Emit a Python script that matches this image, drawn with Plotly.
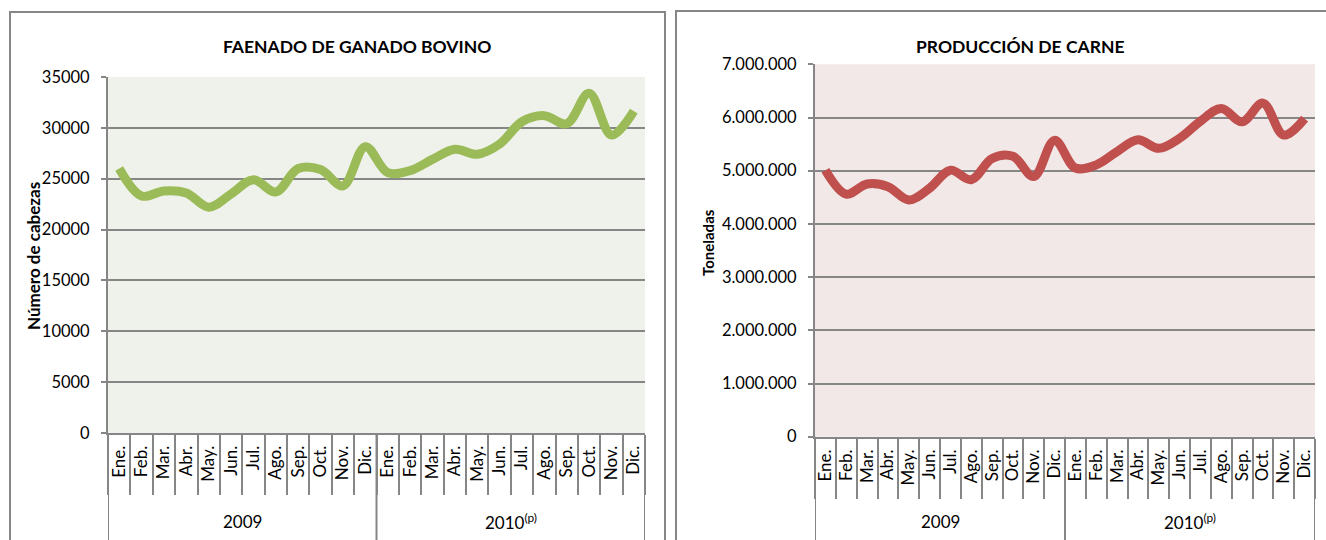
import plotly.graph_objects as go

months = ["Ene.", "Feb.", "Mar.", "Abr.", "May.", "Jun.", "Jul.", "Ago.", "Sep.", "Oct.", "Nov.", "Dic."]
years = ["2009", "2010<sup>(p)</sup>"]
categories = months + months

faenado = [26000, 23300, 23800, 23600, 22200, 23500, 24900, 23700, 26000, 25900, 24300, 28150,
           25600, 25800, 26900, 27900, 27400, 28400, 30600, 31200, 30400, 33400, 29300, 31650]
carne = [5010000, 4560000, 4750000, 4700000, 4450000, 4670000, 5010000, 4830000, 5230000, 5270000, 4890000, 5570000,
         5050000, 5110000, 5360000, 5580000, 5420000, 5610000, 5930000, 6170000, 5920000, 6270000, 5670000, 5980000]

W, H = 1326, 540
GRID = "#868686"
FONT = "Lato"
xidx = list(range(len(categories)))

fig = go.Figure()
fig.add_trace(go.Scatter(x=xidx, y=faenado, mode="lines", xaxis="x", yaxis="y",
                         line=dict(color="#9BBB59", width=9, shape="spline", smoothing=1.0),
                         hoverinfo="y", showlegend=False))
fig.add_trace(go.Scatter(x=xidx, y=carne, mode="lines", xaxis="x2", yaxis="y2",
                         line=dict(color="#C0504D", width=9, shape="spline", smoothing=1.0),
                         hoverinfo="y", showlegend=False))

def px_x(p):
    return p / W

def px_y(p):
    return 1 - p / H

L = dict(x0=108, x1=645, top=77, bot=433)
R = dict(x0=815, x1=1315, top=64.3, bot=436.7)

def xaxis(domain, anchor):
    return dict(domain=domain, anchor=anchor, range=[-0.5, 23.5],
                tickvals=xidx, ticktext=categories, tickangle=-90,
                ticks="", showgrid=False, zeroline=False, automargin=False,
                showline=True, linecolor=GRID, linewidth=2,
                tickfont=dict(family=FONT, size=17, color="#000"),
                ticklabelstandoff=4,
                minor=dict(tickvals=[i - 0.5 for i in range(25)], ticks="outside",
                           ticklen=60, tickwidth=2, tickcolor=GRID, showgrid=False))

def yaxis(domain, anchor, rng, dtick, fmt):
    return dict(domain=domain, anchor=anchor, range=rng, dtick=dtick, tick0=0,
                tickformat=fmt, showgrid=True, gridcolor=GRID, gridwidth=2,
                zeroline=False, showline=True, linecolor=GRID, linewidth=2, automargin=False,
                ticks="outside", ticklen=5, tickwidth=2, tickcolor=GRID,
                tickfont=dict(family=FONT, size=16.5, color="#000"),
                ticklabelstandoff=8)

fig.update_layout(
    width=W, height=H, margin=dict(l=0, r=0, t=0, b=0, pad=0, autoexpand=False),
    paper_bgcolor="white", plot_bgcolor="white",
    separators=",.",
    xaxis=xaxis([px_x(L["x0"]), px_x(L["x1"])], "y"),
    yaxis=yaxis([px_y(L["bot"]), px_y(L["top"])], "x", [0, 35000], 5000, "d"),
    xaxis2=xaxis([px_x(R["x0"]), px_x(R["x1"])], "y2"),
    yaxis2=yaxis([px_y(R["bot"]), px_y(R["top"])], "x2", [0, 7000000], 1000000, ",d"),
)

shapes = []
# plot backgrounds
shapes.append(dict(type="rect", xref="paper", yref="paper", x0=px_x(L["x0"]), x1=px_x(L["x1"]),
                   y0=px_y(L["bot"]), y1=px_y(L["top"]), fillcolor="#EFF2EA", line=dict(width=0), layer="below"))
shapes.append(dict(type="rect", xref="paper", yref="paper", x0=px_x(R["x0"]), x1=px_x(R["x1"]),
                   y0=px_y(R["bot"]), y1=px_y(R["top"]), fillcolor="#F2E8E8", line=dict(width=0), layer="below"))
# outer boxes
shapes.append(dict(type="rect", xref="paper", yref="paper", x0=px_x(10), x1=px_x(665),
                   y0=-0.1, y1=px_y(12), line=dict(color=GRID, width=2), layer="below"))
shapes.append(dict(type="rect", xref="paper", yref="paper", x0=px_x(676), x1=1.1,
                   y0=-0.1, y1=px_y(11), line=dict(color=GRID, width=2), layer="below"))
# group dividers
for xa, box in (("x", L), ("x2", R)):
    for xv in (-0.5, 11.5, 23.5):
        shapes.append(dict(type="line", xref=xa, yref="paper", x0=xv, x1=xv,
                           y0=px_y(box["bot"]), y1=-0.01, line=dict(color=GRID, width=2)))
fig.update_layout(shapes=shapes)

ann = []
ann.append(dict(text="<b>FAENADO DE GANADO BOVINO</b>", xref="paper", yref="paper", xanchor="center",
                yanchor="middle", x=px_x(357), y=px_y(47), showarrow=False,
                font=dict(family=FONT, size=17.5, color="#000")))
ann.append(dict(text="<b>PRODUCCIÓN DE CARNE</b>", xref="paper", yref="paper", xanchor="center",
                yanchor="middle", x=px_x(1020), y=px_y(47), showarrow=False,
                font=dict(family=FONT, size=17.5, color="#000")))
ann.append(dict(text="<b>Número de cabezas</b>", xref="paper", yref="paper", textangle=-90,
                xanchor="center", yanchor="middle",
                x=px_x(33), y=px_y(256), showarrow=False, font=dict(family=FONT, size=17, color="#000")))
ann.append(dict(text="<b>Toneladas</b>", xref="paper", yref="paper", textangle=-90,
                xanchor="center", yanchor="middle",
                x=px_x(708), y=px_y(243), showarrow=False, font=dict(family=FONT, size=15, color="#000")))
for xa in ("x", "x2"):
    for i, yr in enumerate(years):
        ann.append(dict(text=yr, xref=xa, yref="paper", x=5.5 + 12 * i, y=px_y(521), xanchor="center",
                        yanchor="middle", showarrow=False, font=dict(family=FONT, size=17, color="#000")))
fig.update_layout(annotations=ann)

fig.write_html("out.html", config={"displayModeBar": False},
               post_script="document.body.style.margin='0';document.body.style.overflow='hidden';")
